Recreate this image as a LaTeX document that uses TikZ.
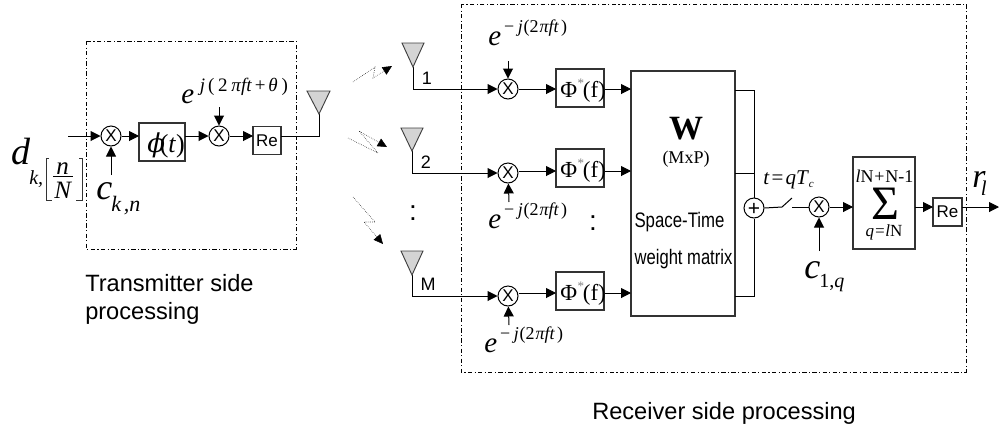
\documentclass[tikz,border=0pt]{standalone}
\usepackage{fontspec}
\setmainfont{Liberation Serif}
\newfontfamily\arialf{Liberation Sans}
\newfontfamily\phif{DejaVu Serif}
\usetikzlibrary{arrows.meta}
\newcommand{\fpx}[1]{\fontsize{\dimexpr#1pt*3/4\relax}{\dimexpr#1pt*9/10\relax}\selectfont}
\newcommand{\itx}[1]{\textit{#1}}
\tikzset{
 x=0.75pt,y=-0.75pt,
 conn/.style={line width=0.75pt,draw=black},
 arr/.style={conn,-{Triangle[length=7.5pt,width=7.5pt]}},
 bx/.style={draw=black!80,line width=0.8pt,fill=white,minimum width=0pt,inner sep=0pt},
 mult/.style={circle,draw=black,line width=0.75pt,fill=white,inner sep=0pt,minimum size=15pt,font=\arialf\fpx{17}},
 ant/.style={draw=black!75,fill=black!17,line width=0.7pt,line join=miter},
 frame/.style={line width=0.6pt,dash pattern=on 3.2pt off 1.8pt on 0.8pt off 1.8pt},
 bolt/.style={line width=0.4pt,densely dotted,-{Triangle[length=7pt,width=6.5pt]}},
 sans/.style={font=\arialf\fpx{#1},inner sep=0pt},
 ser/.style={font=\fpx{#1},inner sep=0pt,anchor=base west},
}
\begin{document}
\begin{tikzpicture}
\useasboundingbox (0,0) rectangle (1004,430);
% frames
\draw[frame] (86,41) rectangle (296,249);
\draw[frame] (461,4) rectangle (966,372);
% transmitter
\node[mult] (m1) at (111,136) {X};
\node[bx,minimum width=34.5pt,minimum height=28.5pt] (phi) at (162,142) {};
\node[ser=26] (phit) at (147,152) {{\phif\fpx{26}\itx{ϕ}}\kern-0.2em(\itx{t})};
\node[mult] (m2) at (219,136) {X};
\node[bx,minimum width=21pt,minimum height=21.5pt,sans=17] (re1) at (267,140.5) {Re};
\coordinate (din) at (68,136);
\coordinate (cin) at (111,175);
\coordinate (ein) at (219,107);
\draw[arr] (din) -- (m1);
\draw[arr] (cin) -- (m1);
\draw[arr] (m1) -- (139,136);
\draw[arr] (185,136) -- (m2);
\draw[arr] (ein) -- (m2);
\draw[arr] (m2) -- (253,136);
\coordinate (tx) at (319,114);
\draw[conn] (281,136) -| (tx);
\draw[ant] (307,91) -- (330,91) -- (tx) -- cycle;
% transmitter labels
\node[ser=38] (d) at (11,164) {\itx{d}};
\node[ser=20] (dk) at (29,184) {\itx{k,}};
\draw[line width=0.6pt,draw=black!80] (49,158) -- (46,158) -- (46,200) -- (52,200);
\draw[line width=0.6pt,draw=black!80] (79,158) -- (82,158) -- (82,200) -- (76,200);
\node[ser=25] (dn) at (56,174) {\itx{n}};
\draw[line width=0.6pt] (53,176) -- (73,176);
\node[ser=25] (dN) at (54,198) {\itx{N}};
\node[ser=36] (c) at (96,199) {\itx{c}};
\node[ser=22] (ck) at (111,211) {\itx{k}\kern0.12em\itx{,n}};
\node[ser=29] (e1) at (181,103) {\itx{e}\kern0.2em\raisebox{0.4em}{\fpx{19}\itx{j}\kern0.15em(\kern0.2em2\kern0.2em\itx{π}\kern-0.02em\itx{ft}\kern0.15em+\kern0.15em\itx{θ}\kern0.2em)}};
% lightning
\coordinate (b1a) at (353,82);\coordinate (b1b) at (375,67);\coordinate (b1c) at (373,78);\coordinate (b1d) at (392,66);
\draw[bolt] (b1a) -- (b1b) -- (b1c) -- (b1d);
\coordinate (b2a) at (348,138);\coordinate (b2b) at (378,153);\coordinate (b2c) at (359,131);\coordinate (b2d) at (387,147);
\draw[bolt] (b2a) -- (b2b) -- (b2c) -- (b2d);
\coordinate (b3a) at (353,197);\coordinate (b3b) at (375,222);\coordinate (b3c) at (364,222);\coordinate (b3d) at (383,244);
\draw[bolt] (b3a) -- (b3b) -- (b3c) -- (b3d);
% receiver antennas and multipliers
\node[mult] (r1) at (508,89) {X};
\node[mult] (r2) at (508,173) {X};
\node[mult] (r3) at (508,296) {X};
\coordinate (a1) at (413,67);\coordinate (a2) at (412,151);\coordinate (a3) at (412,275);
\draw[arr] (a1) |- (r1);
\draw[arr] (a2) |- (r2);
\draw[arr] (a3) |- (r3);
\draw[ant] (402,43) -- (424,43) -- (a1) -- cycle;
\draw[ant] (401,128) -- (423,128) -- (a2) -- cycle;
\draw[ant] (401,251) -- (423,251) -- (a3) -- cycle;
\node[sans=18] (n1) at (427,78) {1};
\node[sans=18] (n2) at (426,162) {2};
\node[sans=18] (n3) at (428,284) {M};
\node[sans=28] (dot1) at (413,213) {:};
\node[sans=28] (dot2) at (593,223) {:};
% Phi boxes
\node[bx,minimum width=36pt,minimum height=28.5pt] (p1) at (580,88) {};
\node[bx,minimum width=36pt,minimum height=28.5pt] (p2) at (580,168) {};
\node[bx,minimum width=36pt,minimum height=28.5pt] (p3) at (580,291) {};
\foreach \n/\y in {p1/97,p2/177,p3/300}{
 \node[ser=23] (\n t) at (560,\y) {Φ\kern0.02em\raisebox{0.42em}{\fpx{13}\textcolor{black!50}{*}}\kern-0.05em(f)};
}
% W box
\node[bx,minimum width=78pt,minimum height=183.75pt] (w) at (683,193.5) {};
\node[font=\bfseries\fpx{34},inner sep=0pt] (wt) at (686,129) {W};
\node[font=\fpx{18},inner sep=0pt] (wd) at (686,159) {(MxP)};
\node[sans=21,xscale=0.8,anchor=base] (w1) at (679.5,227) {Space-Time};
\node[sans=21,xscale=0.79,anchor=base] (w2) at (683.5,264) {weight matrix};
\coordinate (q1) at (556,89);\coordinate (q2) at (556,171);\coordinate (q3) at (556,293);
\coordinate (v1) at (631,89);\coordinate (v2) at (631,171);\coordinate (v3) at (631,293);
\draw[arr] (q1 -| r1.east) -- (q1);
\draw[arr] (q2 -| r2.east) -- (q2);
\draw[arr] (q3 -| r3.east) -- (q3);
\draw[arr] (v1 -| p1.east) -- (v1);
\draw[arr] (v2 -| p2.east) -- (v2);
\draw[arr] (v3 -| p3.east) -- (v3);
% sum
\node[circle,draw=black,line width=0.75pt,fill=white,inner sep=0pt,minimum size=15pt] (s) at (754,208) {};
\node[sans=21] (st) at (754,209.5) {+};
\coordinate (wa) at (735,90);\coordinate (wb) at (735,173);\coordinate (wc) at (735,296);
\draw[conn] (wa) -- (754,90) -- (s);
\draw[conn] (wb) -- (754,173);
\draw[conn] (wc) -- (754,296) -- (s);
\coordinate (sw1) at (782,207);\coordinate (sw2) at (792,198);\coordinate (sw3) at (792,207);
\draw[conn] (s.east) -- (sw1) -- (sw2);
\node[mult] (m3) at (819,207) {X};
\draw[conn] (sw3) -- (m3);
\node[bx,minimum width=46.5pt,minimum height=69pt] (sumb) at (884,203) {};
\draw[arr] (m3) -- (853,207);
\coordinate (cq) at (819,251);
\draw[arr] (cq) -- (m3);
\node[bx,minimum width=21.75pt,minimum height=21pt,sans=17] (re2) at (947.5,212) {Re};
\draw[arr] (915,207) -- (933,207);
\coordinate (rout) at (999,207);
\draw[arr] (962,207) -- (rout);
\node[ser=21] (tq) at (763,184) {\itx{t}\kern0.1em=\kern0.1em\itx{qT}\kern0em\raisebox{-0.15em}{\fpx{11}\itx{c}}};
\node[font=\fpx{18},inner sep=0pt,anchor=base] (sumt) at (884.5,182) {\itx{l}N\kern0.05em+\kern0.05emN-1};
\node[font=\fpx{48},inner sep=0pt] (sig) at (885,204) {Σ};
\node[font=\fpx{17},inner sep=0pt,anchor=base] (sumb2) at (884,236) {\itx{q=l}N};
\node[ser=36] (c1) at (804,278) {\itx{c}};
\node[ser=20] (c1s) at (819,287) {1,\itx{q}};
\node[ser=34] (rl) at (972,187) {\itx{r}\kern-0.14em\raisebox{-0.24em}{\fpx{21}\itx{l}}};
% e labels
\node[ser=29] (e2) at (488,45) {\itx{e}\kern0.1em\raisebox{0.42em}{\fpx{18}−\kern0.2em\itx{j}\kern0.05em(2\kern0.05em\itx{πft}\kern0.12em)}};
\node[ser=29] (e3) at (488,228) {\itx{e}\kern0.1em\raisebox{0.42em}{\fpx{18}−\kern0.2em\itx{j}\kern0.05em(2\kern0.05em\itx{πft}\kern0.12em)}};
\node[ser=29] (e4) at (484,352) {\itx{e}\kern0.1em\raisebox{0.42em}{\fpx{18}−\kern0.2em\itx{j}\kern0.05em(2\kern0.05em\itx{πft}\kern0.12em)}};
\coordinate (ea) at (508,61);\coordinate (eb) at (509,202);\coordinate (ec) at (509,325);
\draw[arr] (ea) -- (r1);
\draw[arr] (eb) -- (r2);
\draw[arr] (ec) -- (r3);
% captions
\node[sans=23.6,anchor=base west] (tc1) at (85,291) {Transmitter side};
\node[sans=23.6,anchor=base west] (tc2) at (85,319) {processing};
\node[sans=23.6,anchor=base west] (rc) at (592,419) {Receiver side processing};
\end{tikzpicture}
\end{document}
